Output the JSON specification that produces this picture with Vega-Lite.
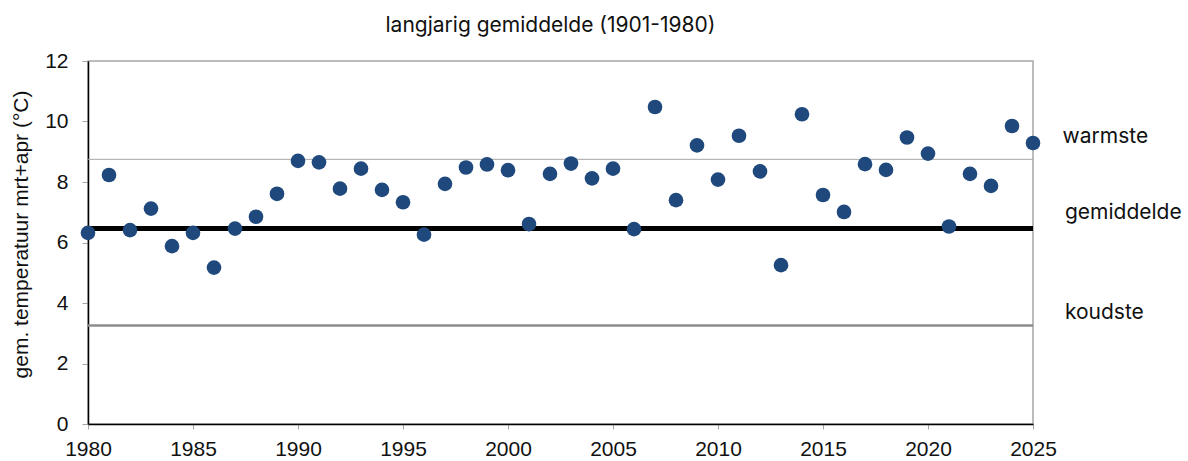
{
  "$schema": "https://vega.github.io/schema/vega-lite/v6.json",
  "autosize": "none",
  "width": 945,
  "height": 363,
  "padding": {"left": 88, "top": 61, "right": 155, "bottom": 37},
  "background": "white",
  "config": {
    "view": {"stroke": "#a6a6a6", "strokeWidth": 1.5},
    "font": "Inter"
  },
  "title": {
    "text": "langjarig gemiddelde (1901-1980)",
    "font": "Inter",
    "fontSize": 21,
    "fontWeight": "normal",
    "color": "#111111",
    "anchor": "middle",
    "dx": -10,
    "offset": 14
  },
  "datasets": {
    "temps": [
      {"jaar": 1980, "temp": 6.32}, {"jaar": 1981, "temp": 8.23}, {"jaar": 1982, "temp": 6.41},
      {"jaar": 1983, "temp": 7.12}, {"jaar": 1984, "temp": 5.88}, {"jaar": 1985, "temp": 6.32},
      {"jaar": 1986, "temp": 5.17}, {"jaar": 1987, "temp": 6.46}, {"jaar": 1988, "temp": 6.85},
      {"jaar": 1989, "temp": 7.61}, {"jaar": 1990, "temp": 8.70}, {"jaar": 1991, "temp": 8.65},
      {"jaar": 1992, "temp": 7.78}, {"jaar": 1993, "temp": 8.44}, {"jaar": 1994, "temp": 7.74},
      {"jaar": 1995, "temp": 7.33}, {"jaar": 1996, "temp": 6.26}, {"jaar": 1997, "temp": 7.94},
      {"jaar": 1998, "temp": 8.48}, {"jaar": 1999, "temp": 8.58}, {"jaar": 2000, "temp": 8.39},
      {"jaar": 2001, "temp": 6.61}, {"jaar": 2002, "temp": 8.27}, {"jaar": 2003, "temp": 8.61},
      {"jaar": 2004, "temp": 8.12}, {"jaar": 2005, "temp": 8.44}, {"jaar": 2006, "temp": 6.44},
      {"jaar": 2007, "temp": 10.48}, {"jaar": 2008, "temp": 7.40}, {"jaar": 2009, "temp": 9.21},
      {"jaar": 2010, "temp": 8.08}, {"jaar": 2011, "temp": 9.53}, {"jaar": 2012, "temp": 8.35},
      {"jaar": 2013, "temp": 5.25}, {"jaar": 2014, "temp": 10.24}, {"jaar": 2015, "temp": 7.57},
      {"jaar": 2016, "temp": 7.01}, {"jaar": 2017, "temp": 8.59}, {"jaar": 2018, "temp": 8.40},
      {"jaar": 2019, "temp": 9.47}, {"jaar": 2020, "temp": 8.94}, {"jaar": 2021, "temp": 6.53},
      {"jaar": 2022, "temp": 8.27}, {"jaar": 2023, "temp": 7.87}, {"jaar": 2024, "temp": 9.85},
      {"jaar": 2025, "temp": 9.29}
    ],
    "refs": [
      {"naam": "warmste", "waarde": 8.75},
      {"naam": "gemiddelde", "waarde": 6.46},
      {"naam": "koudste", "waarde": 3.26}
    ],
    "labels": [
      {"naam": "warmste", "jaar": 2026.41, "pos": 9.49},
      {"naam": "gemiddelde", "jaar": 2026.52, "pos": 6.96},
      {"naam": "koudste", "jaar": 2026.52, "pos": 3.66}
    ]
  },
  "layer": [
    {
      "data": {"name": "refs"},
      "transform": [{"filter": "datum.naam === 'warmste'"}],
      "mark": {"type": "rule", "color": "#a6a6a6", "strokeWidth": 1},
      "encoding": {"y": {"field": "waarde", "type": "quantitative"}}
    },
    {
      "data": {"name": "refs"},
      "transform": [{"filter": "datum.naam === 'koudste'"}],
      "mark": {"type": "rule", "color": "#8c8c8c", "strokeWidth": 2.5},
      "encoding": {"y": {"field": "waarde", "type": "quantitative"}}
    },
    {
      "data": {"name": "refs"},
      "transform": [{"filter": "datum.naam === 'gemiddelde'"}],
      "mark": {"type": "rule", "color": "#000000", "strokeWidth": 5},
      "encoding": {"y": {"field": "waarde", "type": "quantitative"}}
    },
    {
      "data": {"name": "temps"},
      "mark": {"type": "circle", "size": 215, "color": "#1f497d", "opacity": 1},
      "encoding": {
        "x": {
          "field": "jaar", "type": "quantitative",
          "scale": {"domain": [1980, 2025], "nice": false, "zero": false},
          "axis": {
            "title": null,
            "values": [1980, 1985, 1990, 1995, 2000, 2005, 2010, 2015, 2020, 2025],
            "format": "d",
            "domainColor": "#000000",
            "domainWidth": 1.5,
            "tickColor": "#a6a6a6",
            "tickSize": 5,
            "labelFont": "Liberation Sans",
            "labelFontSize": 21,
            "labelColor": "#111111",
            "labelPadding": 9,
            "grid": false,
            "labelFlush": false,
            "labelOverlap": false
          }
        },
        "y": {
          "field": "temp", "type": "quantitative",
          "scale": {"domain": [0, 12], "nice": false},
          "axis": {
            "title": "gem. temperatuur mrt+apr (°C)",
            "titleFont": "Liberation Sans",
            "titleFontSize": 21,
            "titleFontWeight": "normal",
            "titleColor": "#111111",
            "titlePadding": 13,
            "titleY": 173,
            "values": [0, 2, 4, 6, 8, 10, 12],
            "domainColor": "#000000",
            "domainWidth": 1.5,
            "tickColor": "#a6a6a6",
            "tickSize": 6,
            "labelFont": "Liberation Sans",
            "labelFontSize": 21,
            "labelColor": "#111111",
            "labelPadding": 14,
            "grid": false,
            "labelFlush": false
          }
        }
      }
    },
    {
      "data": {"name": "labels"},
      "mark": {"type": "text", "align": "left", "baseline": "middle", "font": "Inter", "fontSize": 21, "color": "#111111"},
      "encoding": {
        "x": {"field": "jaar", "type": "quantitative"},
        "y": {"field": "pos", "type": "quantitative"},
        "text": {"field": "naam"}
      }
    }
  ]
}
